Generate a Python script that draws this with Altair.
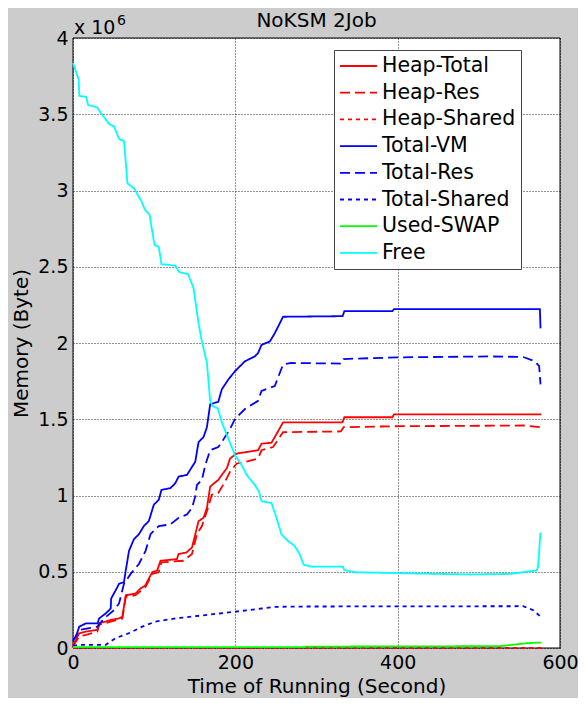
import altair as alt
import pandas as pd

SERIES = ["Heap-Total", "Heap-Res", "Heap-Shared", "Total-VM", "Total-Res",
          "Total-Shared", "Used-SWAP", "Free"]
COLORS = ["#ff0000", "#ff0000", "#ff0000", "#0000ff", "#0000ff", "#0000ff",
          "#00ff00", "#00ffff"]
DASHES = [[1, 0], [10, 5], [4, 4], [1, 0], [10, 5], [4, 4], [1, 0], [1, 0]]

# values in units of 10^6 bytes, time in seconds
heap_total_t = [0, 3.7, 7.7, 16, 30, 32, 40, 46.5, 56.7, 60.8, 65, 77, 83, 89, 97.6, 103.7, 107.8,
                128, 130, 140, 146.6, 154.7, 160.8, 165, 169, 179, 183.3, 189.5, 193.5, 201.7,
                228, 232.3, 244.5, 248.6, 258.8, 332, 334.3, 393.5, 395.5, 577]
heap_total_v = [0.02, 0.054, 0.097, 0.108, 0.119, 0.162, 0.173, 0.184, 0.194, 0.205, 0.346, 0.357,
                0.389, 0.41, 0.497, 0.508, 0.572, 0.583, 0.616, 0.627, 0.659, 0.832, 0.854, 0.919,
                1.059, 1.102, 1.135, 1.178, 1.243, 1.275, 1.297, 1.34, 1.346, 1.383, 1.48, 1.48,
                1.513, 1.513, 1.532, 1.532]

heap_res_t = [0, 7.7, 16, 30, 32.2, 46.5, 60.8, 65, 77, 89.4, 97.6, 105.7, 109, 136, 146.6, 152.7,
              158.8, 165, 171, 179, 187.3, 193.5, 201.7, 216, 228, 232.3, 246.5, 258.8, 330,
              333.4, 395.5, 555, 577]
heap_res_v = [0.011, 0.076, 0.086, 0.108, 0.151, 0.173, 0.194, 0.335, 0.346, 0.4, 0.486, 0.497,
              0.562, 0.572, 0.616, 0.746, 0.8, 0.897, 1.005, 1.016, 1.091, 1.156, 1.21, 1.225,
              1.243, 1.297, 1.318, 1.415, 1.42, 1.448, 1.454, 1.459, 1.448]

heap_shared_t = [0, 200, 400, 577]
heap_shared_v = [0, 0, 0, 0]

total_vm_t = [0, 3.7, 7.7, 16, 30.2, 32.2, 40.4, 46.5, 47, 54.7, 56.7, 62.8, 65, 69, 75, 81.2,
              87.3, 93.4, 99.6, 105.7, 109, 120, 126, 130.2, 140.4, 150.6, 154.7, 160.8, 165,
              169, 179, 183.3, 191.4, 199.6, 211.8, 224, 228, 232.3, 242.5, 248.6, 258.8, 332.2,
              334.3, 393.5, 395.5, 575.2, 576]
total_vm_v = [0.054, 0.076, 0.14, 0.162, 0.162, 0.194, 0.227, 0.259, 0.324, 0.4, 0.421, 0.432,
              0.508, 0.637, 0.713, 0.746, 0.8, 0.832, 0.94, 0.972, 1.037, 1.048, 1.081, 1.124,
              1.135, 1.221, 1.35, 1.383, 1.448, 1.599, 1.614, 1.696, 1.761, 1.815, 1.88, 1.912,
              1.934, 1.988, 2.01, 2.064, 2.172, 2.176, 2.209, 2.209, 2.222, 2.222, 2.096]

total_res_t = [0, 7.7, 30.2, 38.3, 50.6, 56.7, 62.8, 71, 81.2, 89.4, 95.5, 105.7, 120, 130.2,
               140.4, 146.6, 150.6, 152.7, 158.8, 162.9, 169, 179, 183.3, 193.5, 199.6, 211.8,
               228, 232.3, 248.6, 258.8, 269, 330.2, 333.4, 399.6, 513.9, 554.7, 569, 574.3, 576]
total_res_v = [0.043, 0.119, 0.14, 0.194, 0.248, 0.292, 0.421, 0.486, 0.551, 0.637, 0.746, 0.8,
               0.81, 0.854, 0.875, 0.919, 0.994, 1.07, 1.102, 1.199, 1.297, 1.318, 1.35, 1.437,
               1.502, 1.567, 1.621, 1.686, 1.718, 1.859, 1.869, 1.865, 1.895, 1.906, 1.912,
               1.908, 1.88, 1.848, 1.729]

total_shared_t = [0, 7.7, 40.4, 52.7, 69, 85.3, 101.6, 126.1, 162.9, 199.6, 232.3, 248.6, 285,
                  554.7, 567, 575.2]
total_shared_v = [0.015, 0.021, 0.021, 0.065, 0.097, 0.14, 0.173, 0.194, 0.216, 0.238, 0.259,
                  0.27, 0.272, 0.274, 0.248, 0.209]

used_swap_t = [0, 286, 287, 526, 550, 560, 577]
used_swap_v = [0.006, 0.006, 0.009, 0.012, 0.026, 0.032, 0.036]

free_t = [0, 7, 7.8, 16, 18.8, 24, 30, 34, 44.5, 50.6, 56.7, 62.8, 65, 67, 75, 84.5, 88.5, 94.3,
          97.6, 100.4, 105.7, 109, 126, 131, 141.7, 148.5, 154.7, 158.8, 165, 169, 171.8, 178.4,
          183.3, 191.4, 199.6, 207.8, 213.9, 224, 229, 232.3, 244.5, 250.7, 256.8, 264.9, 273,
          279.2, 284, 293.5, 332.2, 334.3, 346.5, 399.6, 489.4, 538.4, 571, 573, 575.9]
free_v = [3.836, 3.728, 3.62, 3.615, 3.559, 3.555, 3.544, 3.512, 3.436, 3.42, 3.339, 3.324,
          3.188, 3.047, 3.015, 2.928, 2.874, 2.842, 2.734, 2.643, 2.63, 2.517, 2.507, 2.464,
          2.452, 2.36, 2.128, 2.01, 1.869, 1.621, 1.588, 1.571, 1.48, 1.372, 1.264, 1.199, 1.135,
          1.07, 1.026, 0.962, 0.951, 0.854, 0.746, 0.702, 0.67, 0.616, 0.547, 0.534, 0.534,
          0.512, 0.497, 0.491, 0.482, 0.486, 0.508, 0.53, 0.757]

TITLE = "NoKSM 2Job"
X_TITLE = "Time of Running (Second)"
Y_TITLE = "Memory (Byte)"
X_TICKS = [0, 200, 400, 600]
Y_TICKS = [0, 0.5, 1, 1.5, 2, 2.5, 3, 3.5, 4]

pairs = [(heap_total_t, heap_total_v), (heap_res_t, heap_res_v), (heap_shared_t, heap_shared_v),
         (total_vm_t, total_vm_v), (total_res_t, total_res_v), (total_shared_t, total_shared_v),
         (used_swap_t, used_swap_v), (free_t, free_v)]
rows = []
for name, (ts, vs) in zip(SERIES, pairs):
    for i, (t, v) in enumerate(zip(ts, vs)):
        rows.append({"series": name, "t": t, "v": v, "i": i})
df = pd.DataFrame(rows)

FONT = "DejaVu Sans"
W, H = 487, 610

# the four edges of the box, drawn beneath the data lines
one = pd.DataFrame({"k": [0]})
box_top = alt.Chart(one).mark_rule(color="black", strokeWidth=1).encode(
    x=alt.value(0), x2=alt.value(W), y=alt.value(0))
box_bottom = alt.Chart(one).mark_rule(color="black", strokeWidth=1).encode(
    x=alt.value(0), x2=alt.value(W), y=alt.value(H))
box_left = alt.Chart(one).mark_rule(color="black", strokeWidth=1).encode(
    x=alt.value(0), y=alt.value(0), y2=alt.value(H))
box_right = alt.Chart(one).mark_rule(color="black", strokeWidth=1).encode(
    x=alt.value(W), y=alt.value(0), y2=alt.value(H))

lines = alt.Chart(df).mark_line(strokeWidth=1.8, clip=False).encode(
    x=alt.X("t:Q", scale=alt.Scale(domain=[0, 600], nice=False),
            axis=alt.Axis(values=X_TICKS, title=X_TITLE, labelPadding=20, labelFlush=False,
                          labelBaseline="alphabetic", titleX=W / 2, titleY=44,
                          titleBaseline="alphabetic", zindex=0)),
    y=alt.Y("v:Q", scale=alt.Scale(domain=[0, 4], nice=False),
            axis=alt.Axis(values=Y_TICKS, title=Y_TITLE, format="~g", labelPadding=5,
                          labelFlush=False, titleX=-46, titleY=H / 2,
                          titleBaseline="alphabetic", zindex=0)),
    color=alt.Color("series:N", scale=alt.Scale(domain=SERIES, range=COLORS),
                    legend=alt.Legend(title=None)),
    strokeDash=alt.StrokeDash("series:N", scale=alt.Scale(domain=SERIES, range=DASHES),
                              legend=alt.Legend(title=None)),
    order=alt.Order("i:Q"),
    detail="series:N",
)

title_txt = alt.Chart(pd.DataFrame({"s": [TITLE]})).mark_text(
    align="center", baseline="alphabetic", fontSize=20, font=FONT, color="black"
).encode(text="s:N", x=alt.value(W / 2), y=alt.value(-11))

exp_base = alt.Chart(pd.DataFrame({"s": ["x 10"]})).mark_text(
    align="left", baseline="alphabetic", fontSize=19, font=FONT, color="black"
).encode(text="s:N", x=alt.value(1), y=alt.value(-4))

exp_pow = alt.Chart(pd.DataFrame({"s": ["6"]})).mark_text(
    align="left", baseline="alphabetic", fontSize=14, font=FONT, color="black"
).encode(text="s:N", x=alt.value(44), y=alt.value(-13))

chart = alt.layer(box_top, box_bottom, box_left, box_right, lines,
                  title_txt, exp_base, exp_pow).properties(
    width=W, height=H,
    autosize=alt.AutoSizeParams(type="none"),
    padding={"left": 65, "top": 30, "right": 18, "bottom": 50},
    background="#cccccc",
).configure(font=FONT).configure_view(
    fill="white", stroke="transparent", strokeWidth=0
).configure_axis(
    grid=True, gridColor="black", gridDash=[1, 2], gridOpacity=0.85, gridWidth=1,
    domain=False, ticks=False, tickSize=0,
    labelFont=FONT, labelFontSize=19, labelColor="black",
    titleFont=FONT, titleFontSize=20, titleFontWeight="normal", titleColor="black",
).configure_legend(
    orient="none", legendX=261, legendY=12,
    fillColor="white", strokeColor="#444444", padding=5,
    symbolType="stroke", symbolSize=1369, symbolStrokeWidth=1.8,
    labelFont=FONT, labelFontSize=20.5, labelColor="black", labelOffset=4,
    clipHeight=22, rowPadding=4.7, labelLimit=300,
)

chart.save("out.html", embed_options={"renderer": "svg", "actions": False})
